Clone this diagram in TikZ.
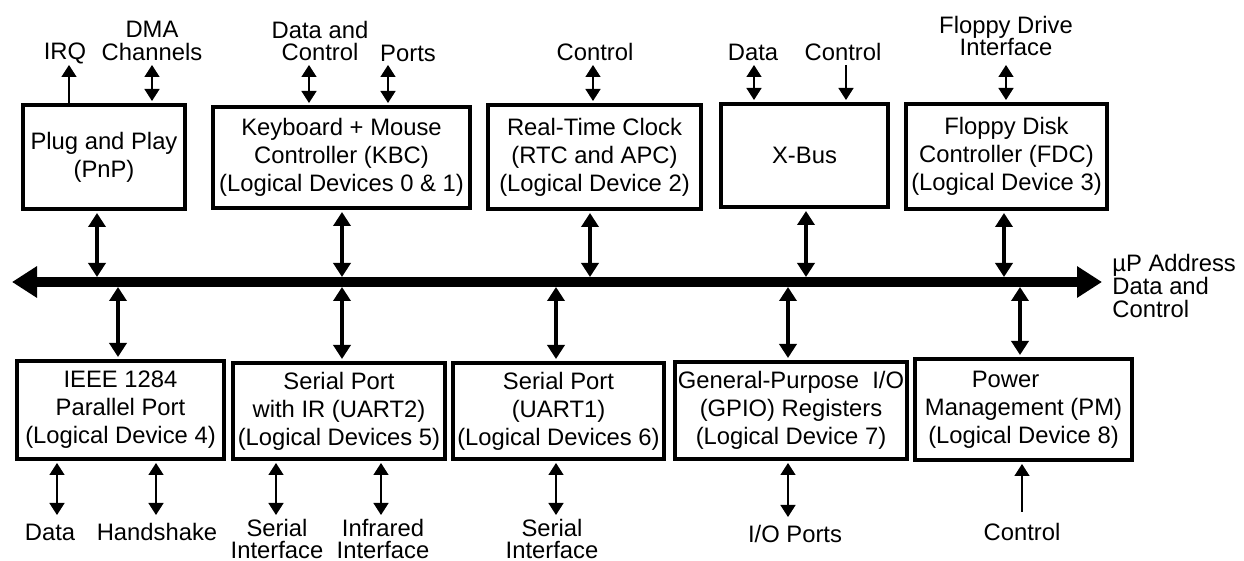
\documentclass[tikz,border=0pt]{standalone}
\usepackage{fontspec}
\setmainfont{Liberation Sans}
\usetikzlibrary{arrows.meta}

\begin{document}
\begin{tikzpicture}
	[x=0.5pt,y=-0.5pt,every node/.style={inner sep=0pt, align=center, font=\fontsize{11.9}{14}\selectfont}]
	\tikzstyle{dev} = [draw, line width=2pt];
	\tikzstyle{lab} = [font={\fontsize{11.9}{11.4}\selectfont}];
	\tikzstyle{mainbus} = [line width=5pt, {Triangle[length=12.5pt,width=15pt]}-{Triangle[length=12.5pt,width=15pt]}];
	\tikzstyle{link} = [line width=2pt, {Triangle[length=7pt,width=8.5pt]}-{Triangle[length=7pt,width=8.5pt]}, shorten <=1pt, shorten >=2.5pt];
	\tikzstyle{sig} = [line width=0.7pt, {Triangle[length=6pt,width=7.5pt]}-{Triangle[length=6pt,width=7.5pt]}, shorten <=1pt];
	\tikzstyle{sigin} = [line width=0.7pt, -{Triangle[length=6pt,width=7.5pt]}];
	
	\useasboundingbox (0,0) rectangle (1244,561);
	
	% bus
	\coordinate (busL) at (12,282);
	\coordinate (busR) at (1102,282);
	\draw[mainbus] (busL) -- (busR);
	\node[lab, anchor=west, align=left] (bust) at (1112,286) {µP Address\\Data and\\Control};
	
	% top row
	\node[dev, minimum width=81pt, minimum height=52pt] (pnp) at (104,157) {Plug and Play\\(PnP)};
	\node[dev, minimum width=128.5pt, minimum height=50.5pt] (kbc) at (341.5,157.5) {Keyboard + Mouse\\Controller (KBC)\\(Logical Devices 0 \& 1)};
	\node[dev, minimum width=106.5pt, minimum height=52pt] (rtc) at (594.5,157) {Real-Time Clock\\(RTC and APC)\\(Logical Device 2)};
	\node[dev, minimum width=83.5pt, minimum height=51.5pt] (xbus) at (804.5,155.5) {X-Bus};
	\node[dev, minimum width=100.5pt, minimum height=52.5pt] (fdc) at (1006.5,156.5) {Floppy Disk\\Controller (FDC)\\(Logical Device 3)};
	
	% bottom row
	\node[dev, minimum width=103.5pt, minimum height=49pt] (par) at (120.5,410) {IEEE 1284\\Parallel Port\\(Logical Device 4)};
	\node[dev, minimum width=106pt, minimum height=48pt] (ser2) at (339,411) {Serial Port\\with IR (UART2)\\(Logical Devices 5)};
	\node[dev, minimum width=105.5pt, minimum height=48pt] (ser1) at (558.5,411) {Serial Port\\(UART1)\\(Logical Devices 6)};
	\node[dev, minimum width=116pt, minimum height=48.5pt] (gpio) at (791,410.5) {General-Purpose~ I/O\\(GPIO) Registers\\(Logical Device 7)};
	\node[dev, minimum width=108.5pt, minimum height=50.5pt] (pm) at (1023.5,409.5) {Power\hspace{18pt}\mbox{}\\Management (PM)\\(Logical Device 8)};
	
	% taps on the bus
	\coordinate (tp1) at (97,282);
	\coordinate (tp2) at (342,282);
	\coordinate (tp3) at (590,282);
	\coordinate (tp4) at (806,282);
	\coordinate (tp5) at (1004,282);
	\coordinate (tb1) at (118,282);
	\coordinate (tb2) at (342,282);
	\coordinate (tb3) at (556,282);
	\coordinate (tb4) at (788,282);
	\coordinate (tb5) at (1020,282);
	
	\draw[link] (pnp.south -| tp1) -- (tp1);
	\draw[link] (kbc.south -| tp2) -- (tp2);
	\draw[link] (rtc.south -| tp3) -- (tp3);
	\draw[link] (xbus.south -| tp4) -- (tp4);
	\draw[link] (fdc.south -| tp5) -- (tp5);
	\draw[link] (par.north -| tb1) -- (tb1);
	\draw[link] (ser2.north -| tb2) -- (tb2);
	\draw[link] (ser1.north -| tb3) -- (tb3);
	\draw[link] (gpio.north -| tb4) -- (tb4);
	\draw[link] (pm.north -| tb5) -- (tb5);
	
	% top signals
	\coordinate (irq) at (69,65);
	\coordinate (dma) at (152,65);
	\coordinate (kdc) at (309,65);
	\coordinate (kport) at (388,65);
	\coordinate (rctl) at (593,65);
	\coordinate (xdat) at (754,65);
	\coordinate (xctl) at (846,65);
	\coordinate (fdi) at (1006,65);
	
	\draw[sigin] (pnp.north -| irq) -- (irq);
	\draw[sig] (pnp.north -| dma) -- (dma);
	\draw[sig] (kbc.north -| kdc) -- (kdc);
	\draw[sig] (kbc.north -| kport) -- (kport);
	\draw[sig] (rtc.north -| rctl) -- (rctl);
	\draw[sig] (xbus.north -| xdat) -- (xdat);
	\draw[sigin, shorten >=1pt] (xctl) -- (xbus.north -| xctl);
	\draw[sig] (fdc.north -| fdi) -- (fdi);
	
	\node[lab] (irqt) at (65,53) {IRQ};
	\node[lab] (dmat) at (152,41) {DMA\\Channels};
	\node[lab] (kdct) at (320,41) {Data and\\Control};
	\node[lab] (kportt) at (408,53) {Ports};
	\node[lab] (rctlt) at (595,52) {Control};
	\node[lab] (xdatt) at (753,52) {Data};
	\node[lab] (xctlt) at (843,52) {Control};
	\node[lab] (fdit) at (1006,36) {Floppy Drive\\Interface};
	
	% bottom signals
	\coordinate (pdat) at (57,515);
	\coordinate (phs) at (156,515);
	\coordinate (s2ser) at (276,515);
	\coordinate (s2ir) at (381,515);
	\coordinate (s1ser) at (556,515);
	\coordinate (gio) at (788,517);
	\coordinate (pmc) at (1022,512);
	
	\draw[sig] (par.south -| pdat) -- (pdat);
	\draw[sig] (par.south -| phs) -- (phs);
	\draw[sig] (ser2.south -| s2ser) -- (s2ser);
	\draw[sig] (ser2.south -| s2ir) -- (s2ir);
	\draw[sig] (ser1.south -| s1ser) -- (s1ser);
	\draw[sig] (gpio.south -| gio) -- (gio);
	\draw[sigin, shorten >=1pt] (pmc) -- (pm.south -| pmc);
	
	\node[lab] (pdatt) at (50,532) {Data};
	\node[lab] (phst) at (157,532) {Handshake};
	\node[lab] (s2sert) at (277,539) {Serial\\Interface};
	\node[lab] (s2irt) at (383,539) {Infrared\\Interface};
	\node[lab] (s1sert) at (552,539) {Serial\\Interface};
	\node[lab] (giot) at (795,534) {I/O Ports};
	\node[lab] (pmct) at (1022,532) {Control};
\end{tikzpicture}
\end{document}
